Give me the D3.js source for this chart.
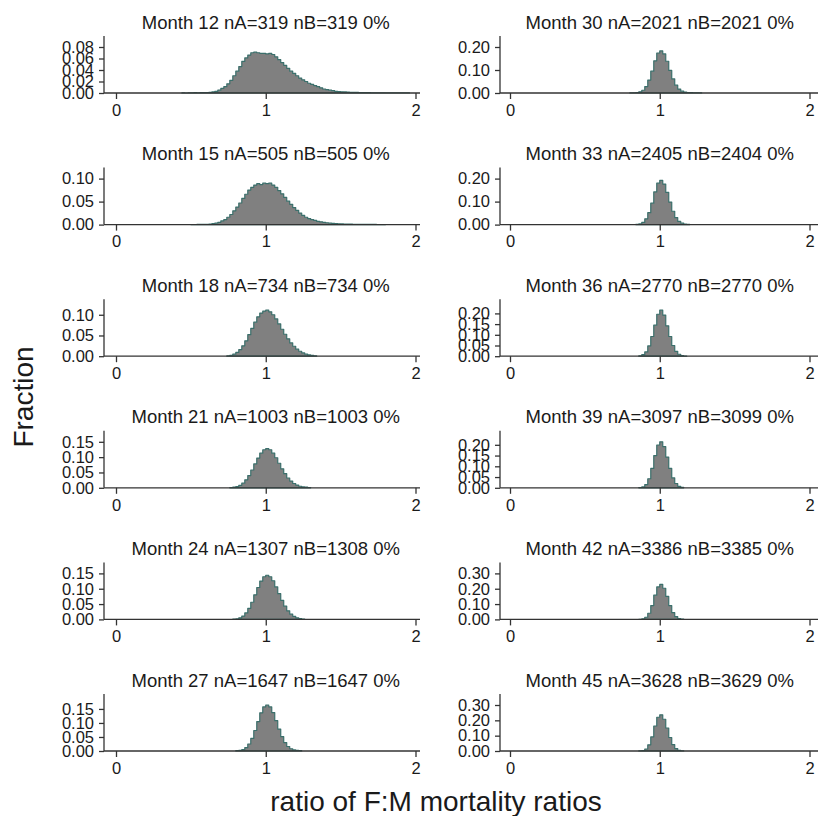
<!DOCTYPE html>
<html>
<head>
<meta charset="utf-8">
<script src="https://cdn.jsdelivr.net/npm/d3@7"></script>
<style>
  body { margin: 0; background: #fff; }
  text { font-family: "Liberation Sans", Arial, sans-serif; fill: #1a1a1a; }
</style>
</head>
<body>
<svg width="818" height="816"></svg>
<script>
// panel info (left column then right column)
var months = [12, 15, 18, 21, 24, 27, 30, 33, 36, 39, 42, 45];
var nA = [319, 505, 734, 1003, 1307, 1647, 2021, 2405, 2770, 3097, 3386, 3628];
var nB = [319, 505, 734, 1003, 1308, 1647, 2021, 2404, 2770, 3099, 3385, 3629];
var pct = ["0%", "0%", "0%", "0%", "0%", "0%", "0%", "0%", "0%", "0%", "0%", "0%"];

// histogram bins: width 0.02, first bin start per panel
var binWidth = 0.02;
var binStart = [0.44, 0.50, 0.74, 0.76, 0.78, 0.80, 0.80, 0.84, 0.86, 0.86, 0.86, 0.86];

// fraction per bin
var m12 = [0.0003, 0, 0.0003, 0.0003, 0.0006, 0.0003, 0.0006, 0.0009, 0.0009, 0.0012,
  0.0019, 0.003, 0.005, 0.008, 0.011, 0.016, 0.022, 0.030, 0.038, 0.046,
  0.055, 0.061, 0.066, 0.070, 0.071, 0.070, 0.069, 0.069, 0.068, 0.069,
  0.067, 0.063, 0.058, 0.053, 0.048, 0.043, 0.038, 0.034, 0.030, 0.026,
  0.023, 0.020, 0.017, 0.015, 0.013, 0.011, 0.009, 0.007, 0.006, 0.005,
  0.004, 0.003, 0.0025, 0.002, 0.0018, 0.0015, 0.0012, 0.001, 0.001, 0.0008,
  0.0006, 0.0006, 0.0005, 0.0004, 0.0004, 0.0003, 0.0003, 0.0003, 0.0002, 0.0002,
  0.0002, 0.0001, 0.0002, 0.0001, 0.0001, 0.0001];
var m15 = [0.0002, 0.0002, 0.0004, 0.0004, 0.0006, 0.0008, 0.0012, 0.002, 0.003, 0.005,
  0.008, 0.011, 0.016, 0.022, 0.030, 0.038, 0.047, 0.057, 0.066, 0.075,
  0.081, 0.086, 0.089, 0.087, 0.090, 0.089, 0.090, 0.086, 0.081, 0.074,
  0.067, 0.059, 0.051, 0.044, 0.037, 0.031, 0.025, 0.020, 0.016, 0.013,
  0.011, 0.009, 0.007, 0.006, 0.005, 0.004, 0.003, 0.0025, 0.002, 0.0018,
  0.0015, 0.0012, 0.001, 0.0009, 0.0008, 0.0007, 0.0006, 0.0005, 0.0004, 0.0004,
  0.0003, 0.0003, 0.0002, 0.0002, 0.0001];
var m18 = [0.001, 0.002, 0.005, 0.009, 0.016, 0.025, 0.037, 0.052, 0.067, 0.082,
  0.095, 0.104, 0.109, 0.111, 0.107, 0.100, 0.090, 0.078, 0.065, 0.053,
  0.042, 0.032, 0.024, 0.017, 0.012, 0.008, 0.005, 0.003, 0.002, 0.001];
var m21 = [0.001, 0.002, 0.004, 0.008, 0.015, 0.026, 0.040, 0.058, 0.078, 0.097,
  0.113, 0.124, 0.128, 0.124, 0.113, 0.098, 0.080, 0.062, 0.046, 0.032,
  0.022, 0.014, 0.009, 0.005, 0.003, 0.002, 0.001];
var m24 = [0.001, 0.002, 0.005, 0.011, 0.021, 0.036, 0.056, 0.080, 0.104, 0.125,
  0.139, 0.144, 0.139, 0.126, 0.106, 0.084, 0.062, 0.043, 0.028, 0.017,
  0.010, 0.005, 0.003, 0.001];
var m27 = [0.001, 0.002, 0.005, 0.012, 0.025, 0.045, 0.073, 0.105, 0.136, 0.157,
  0.164, 0.157, 0.137, 0.108, 0.078, 0.051, 0.030, 0.016, 0.008, 0.004,
  0.002, 0.001];
var m30 = [0.0005, 0.001, 0.002, 0.005, 0.012, 0.028, 0.056, 0.095, 0.140, 0.174,
  0.183, 0.170, 0.138, 0.098, 0.061, 0.034, 0.017, 0.008, 0.004, 0.002,
  0.0015, 0.001, 0.0008, 0.0005];
var m33 = [0.001, 0.003, 0.010, 0.025, 0.052, 0.093, 0.142, 0.180, 0.192, 0.176,
  0.140, 0.098, 0.058, 0.030, 0.014, 0.006, 0.002, 0.001];
var m36 = [0.002, 0.007, 0.020, 0.048, 0.092, 0.145, 0.196, 0.215, 0.192, 0.142,
  0.092, 0.050, 0.023, 0.009, 0.003, 0.001];
var m39 = [0.001, 0.004, 0.015, 0.042, 0.090, 0.150, 0.199, 0.214, 0.192, 0.143,
  0.090, 0.046, 0.020, 0.007, 0.002];
var m42 = [0.001, 0.004, 0.014, 0.040, 0.090, 0.158, 0.212, 0.228, 0.203, 0.150,
  0.090, 0.044, 0.018, 0.006, 0.002];
var m45 = [0.001, 0.003, 0.013, 0.040, 0.092, 0.163, 0.220, 0.236, 0.207, 0.150,
  0.088, 0.042, 0.016, 0.005, 0.001];
var fractions = [m12, m15, m18, m21, m24, m27, m30, m33, m36, m39, m42, m45];

// y tick labels per panel
var yTicks = [
  [0, 0.02, 0.04, 0.06, 0.08],
  [0, 0.05, 0.10],
  [0, 0.05, 0.10],
  [0, 0.05, 0.10, 0.15],
  [0, 0.05, 0.10, 0.15],
  [0, 0.05, 0.10, 0.15],
  [0, 0.10, 0.20],
  [0, 0.10, 0.20],
  [0, 0.05, 0.10, 0.15, 0.20],
  [0, 0.05, 0.10, 0.15, 0.20],
  [0, 0.10, 0.20, 0.30],
  [0, 0.10, 0.20, 0.30]
];
var xTicks = [0, 1, 2];

var svg = d3.select('svg');
var fillCol = '#808080', lineCol = '#3b6f6b', axisCol = '#333';

var colLeft = [104, 500];      // y-axis position of each column
var colX0 = [116, 510];        // pixel of x=0
var colRight = [420, 818];
var rowStep = 131.6, firstBase = 93;
var plotH = 46, axisH = 57;

months.forEach(function(m, i) {
  var col = Math.floor(i / 6), row = i % 6;
  var base = firstBase + row * rowStep;
  var g = svg.append('g');

  var x = d3.scaleLinear().domain([0, 2]).range([colX0[col], colX0[col] + 299.5]);
  var fr = fractions[i];
  var ticks = yTicks[i];
  var top = Math.max(ticks[ticks.length - 1], d3.max(fr));
  var y = d3.scaleLinear().domain([0, top]).range([base, base - plotH]);

  // histogram as stepped area
  var pts = [];
  fr.forEach(function(v, k) {
    var x0 = binStart[i] + k * binWidth;
    pts.push([x0, v]);
    pts.push([x0 + binWidth, v]);
  });
  var area = d3.area()
    .x(function(d) { return x(d[0]); })
    .y0(y(0))
    .y1(function(d) { return y(d[1]); });
  g.append('path')
    .attr('d', area(pts))
    .attr('fill', fillCol)
    .attr('stroke', lineCol)
    .attr('stroke-width', 1.2)
    .attr('stroke-linejoin', 'round');

  // x axis
  g.append('line')
    .attr('x1', colLeft[col]).attr('x2', colRight[col])
    .attr('y1', base).attr('y2', base)
    .attr('stroke', axisCol).attr('stroke-width', 1.3);
  var xa = g.append('g').attr('transform', 'translate(0,' + base + ')')
    .call(d3.axisBottom(x).tickValues(xTicks).tickFormat(d3.format('d'))
      .tickSize(6).tickSizeOuter(0).tickPadding(5));
  xa.select('.domain').remove();
  xa.selectAll('line').attr('stroke', axisCol).attr('stroke-width', 1.3);
  xa.selectAll('text').attr('font-size', 16.5).attr('fill', '#1a1a1a')
    .style('font-family', '"Liberation Sans", Arial, sans-serif');

  // y axis
  g.append('line')
    .attr('x1', colLeft[col]).attr('x2', colLeft[col])
    .attr('y1', base).attr('y2', base - axisH)
    .attr('stroke', axisCol).attr('stroke-width', 1.3);
  var ya = g.append('g').attr('transform', 'translate(' + colLeft[col] + ',0)')
    .call(d3.axisLeft(y).tickValues(ticks).tickFormat(d3.format('.2f'))
      .tickSize(5).tickSizeOuter(0).tickPadding(5));
  ya.select('.domain').remove();
  ya.selectAll('line').attr('stroke', axisCol).attr('stroke-width', 1.3);
  ya.selectAll('text').attr('font-size', 16.5).attr('fill', '#1a1a1a')
    .style('font-family', '"Liberation Sans", Arial, sans-serif');

  // panel title
  g.append('text')
    .attr('x', x(1)).attr('y', base - 64.5)
    .attr('text-anchor', 'middle')
    .attr('font-size', 18.5)
    .text('Month ' + m + ' nA=' + nA[i] + ' nB=' + nB[i] + ' ' + pct[i]);
});

svg.append('text')
  .attr('transform', 'translate(33,397)rotate(-90)')
  .attr('text-anchor', 'middle')
  .attr('font-size', 28)
  .text('Fraction');

svg.append('text')
  .attr('x', 436).attr('y', 811)
  .attr('text-anchor', 'middle')
  .attr('font-size', 28)
  .text('ratio of F:M mortality ratios');
</script>
</body>
</html>
